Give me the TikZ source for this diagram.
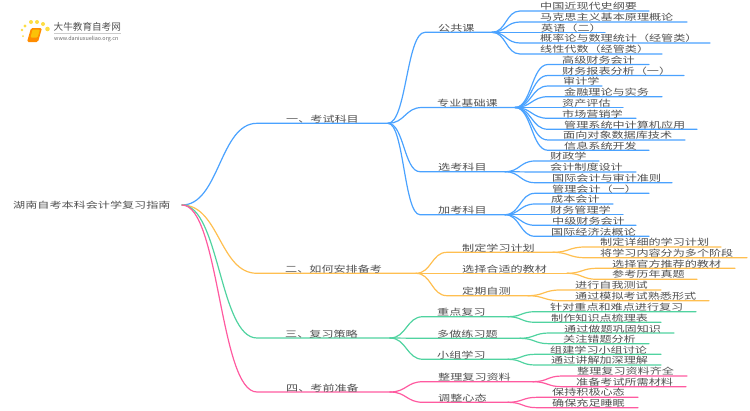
\documentclass[tikz,border=0pt]{standalone}
\usepackage{fontspec}
\setmainfont{Noto Sans CJK SC}
\usetikzlibrary{calc}
\definecolor{cblue}{HTML}{4AA2FF}
\definecolor{cyellow}{HTML}{FFBF50}
\definecolor{cgreen}{HTML}{50D3A0}
\definecolor{cpink}{HTML}{FF5AA0}
\definecolor{ctext}{HTML}{505050}
\tikzset{
  lbl/.style={anchor=west,inner sep=0pt,text=ctext,font=\fontsize{12.1}{12.5}\selectfont,text height=6.4pt,text depth=0pt},
  wire/.style={line width=1.2pt,line cap=round},
}
\newcommand{\squash}[1]{\scalebox{1}[.72]{#1}}
% name, parent, line start x, line y, line end x, text x, text y, text, colour
\newcommand{\mmitem}[9]{%
  \coordinate (#1-s) at (#3,#4);
  \coordinate (#1-e) at (#5,#4);
  \draw[wire,#9] let \p1=(#2-e),\p2=(#1-s),\n1={(\x1+\x2)/2} in
    (#2-e) .. controls (\n1,\y1) and (\n1,\y2) .. (#1-s) -- (#1-e);
  \node[lbl] (#1) at (#6,#7) {\squash{#8}};
}
\begin{document}
\begin{tikzpicture}[x=1pt,y=-1pt]
\useasboundingbox (0,0) rectangle (750,410);
\node[lbl] (root) at (13,205) {\squash{湖南自考本科会计学复习指南}};
\coordinate (root-e) at (182,205);
% branch 1
\mmitem{a}{root}{257}{123.3}{388}{286}{119}{一、考试科目}{cblue}
\mmitem{a1}{a}{425}{32.3}{492}{438}{28}{公共课}{cblue}
\mmitem{a11}{a1}{520}{11}{649}{540}{6.5}{中国近现代史纲要}{cblue}
\mmitem{a12}{a1}{520}{22}{687}{540}{17.5}{马克思主义基本原理概论}{cblue}
\mmitem{a13}{a1}{520}{32.3}{605}{541}{28}{英语（二）}{cblue}
\mmitem{a14}{a1}{520}{43}{710}{540}{38.5}{概率论与数理统计（经管类）}{cblue}
\mmitem{a15}{a1}{520}{54}{662}{540}{49.5}{线性代数（经管类）}{cblue}
\mmitem{a2}{a}{422}{107.5}{515}{437}{103}{专业基础课}{cblue}
\mmitem{a21}{a2}{548}{64.5}{649}{562}{60}{高级财务会计}{cblue}
\mmitem{a22}{a2}{548}{75.5}{684}{562}{71}{财务报表分析（一）}{cblue}
\mmitem{a23}{a2}{548}{86}{602}{563}{81.5}{审计学}{cblue}
\mmitem{a24}{a2}{548}{96.7}{662}{564}{92}{金融理论与实务}{cblue}
\mmitem{a25}{a2}{548}{107.5}{623}{562}{103}{资产评估}{cblue}
\mmitem{a26}{a2}{548}{118.3}{636}{562}{114}{市场营销学}{cblue}
\mmitem{a27}{a2}{548}{129.3}{697}{564}{125}{管理系统中计算机应用}{cblue}
\mmitem{a28}{a2}{548}{140}{685}{563}{135.5}{面向对象数据库技术}{cblue}
\mmitem{a29}{a2}{548}{150.3}{649}{564}{146}{信息系统开发}{cblue}
\mmitem{a3}{a}{420}{171.7}{505}{438}{167}{选考科目}{cblue}
\mmitem{a31}{a3}{535}{161}{599}{550}{156.5}{财政学}{cblue}
\mmitem{a32}{a3}{535}{172}{636}{550}{167.5}{会计制度设计}{cblue}
\mmitem{a33}{a3}{535}{182.7}{672}{552}{178}{国际会计与审计准则}{cblue}
\mmitem{a4}{a}{420}{214.7}{505}{438}{210}{加考科目}{cblue}
\mmitem{a41}{a4}{535}{193.3}{649}{552}{189}{管理会计（一）}{cblue}
\mmitem{a42}{a4}{535}{204}{613}{551}{199.5}{成本会计}{cblue}
\mmitem{a43}{a4}{535}{214.7}{623}{550}{210}{财务管理学}{cblue}
\mmitem{a44}{a4}{535}{225.3}{636}{552}{221}{中级财务会计}{cblue}
\mmitem{a45}{a4}{535}{236.3}{649}{551}{232}{国际经济法概论}{cblue}
% branch 2
\mmitem{b}{root}{257}{273.3}{416}{285}{269}{二、如何安排备考}{cyellow}
\mmitem{b1}{b}{447}{252.3}{553}{462}{248}{制定学习计划}{cyellow}
\mmitem{b2}{b}{447}{273.3}{567}{462}{269}{选择合适的教材}{cyellow}
\mmitem{b3}{b}{447}{295.7}{528}{462}{291}{定期自测}{cyellow}
\mmitem{b11}{b1}{585}{247}{721}{600}{242.5}{制定详细的学习计划}{cyellow}
\mmitem{b12}{b1}{585}{257.7}{747}{600}{253}{将学习内容分为多个阶段}{cyellow}
\mmitem{b21}{b2}{597}{268.3}{735}{612}{264}{选择官方推荐的教材}{cyellow}
\mmitem{b22}{b2}{597}{279.3}{697}{612}{274.5}{参考历年真题}{cyellow}
\mmitem{b31}{b3}{560}{290}{661}{575}{285.5}{进行自我测试}{cyellow}
\mmitem{b32}{b3}{560}{300.7}{709}{575}{296}{通过模拟考试熟悉形式}{cyellow}
% branch 3
\mmitem{c}{root}{257}{338}{390}{285}{334}{三、复习策略}{cgreen}
\mmitem{c1}{c}{423}{316.7}{508}{437}{312}{重点复习}{cgreen}
\mmitem{c2}{c}{423}{338.3}{520}{437}{334}{多做练习题}{cgreen}
\mmitem{c3}{c}{423}{359.3}{508}{437}{355}{小组学习}{cgreen}
\mmitem{c11}{c1}{535}{311.7}{696}{550}{307}{针对重点和难点进行复习}{cgreen}
\mmitem{c12}{c1}{535}{322.3}{661}{551}{318}{制作知识点梳理表}{cgreen}
\mmitem{c21}{c2}{549}{333}{674}{564}{329}{通过做题巩固知识}{cgreen}
\mmitem{c22}{c2}{549}{343.7}{649}{563}{339}{关注错题分析}{cgreen}
\mmitem{c31}{c3}{535}{354.3}{661}{550}{350}{组建学习小组讨论}{cgreen}
\mmitem{c32}{c3}{535}{365}{661}{551}{360.5}{通过讲解加深理解}{cgreen}
% branch 4
\mmitem{d}{root}{257}{392}{390}{286}{388}{四、考前准备}{cpink}
\mmitem{d1}{d}{423}{381.7}{533}{438}{377}{整理复习资料}{cpink}
\mmitem{d2}{d}{423}{402.3}{508}{438}{398}{调整心态}{cpink}
\mmitem{d11}{d1}{562}{376}{687}{577}{371.5}{整理复习资料齐全}{cpink}
\mmitem{d12}{d1}{562}{386.7}{686}{576}{382}{准备考试所需材料}{cpink}
\mmitem{d21}{d2}{537}{397.3}{638}{552}{392.5}{保持积极心态}{cpink}
\mmitem{d22}{d2}{537}{407.7}{638}{552}{403}{确保充足睡眠}{cpink}
% logo
\foreach \px/\py/\pr in {23/36/1,22/30/1.3,25/26/1.6,31/22/2,37/22/2,43/24/2,47.5/29/2.3}
  \fill[yellow!70!orange,opacity=.75] (\px,\py) circle (\pr);
\fill[orange!90!yellow,rounded corners=1.5] (31,28) -- (42,28) -- (38,42) -- (27,42) -- cycle;
\fill[yellow!55!orange,rounded corners=1] (32.5,29.5) -- (40,29.5) -- (37.5,37.5) -- (30.5,37.5) -- cycle;
\node[anchor=west,inner sep=0pt,text=ctext,font=\fontsize{9.6}{10}\selectfont] (brand) at (53.5,27) {大牛教育自考网};
\node[anchor=west,inner sep=0pt,text=black!60,font=\fontsize{5.4}{6}\selectfont] (site) at (54,39) {www.daniuxueliao.org.cn};
\coordinate (rule-w) at (54,33);
\coordinate (rule-e) at (121,33);
\draw[black!20,line width=.5pt] (rule-w) -- (rule-e);
\end{tikzpicture}
\end{document}
